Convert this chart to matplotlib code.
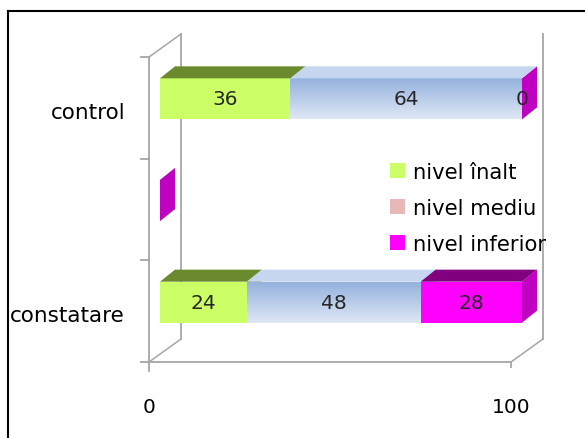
import numpy as np
import matplotlib.pyplot as plt
from matplotlib.patches import Rectangle, Polygon, Patch
from matplotlib.lines import Line2D
from matplotlib.colors import LinearSegmentedColormap

# categories bottom -> top (middle slot is empty in the original)
categories = ["constatare", "", "control"]
nivel_inalt = [24, 0, 36]
nivel_mediu = [48, 0, 64]
nivel_inferior = [28, 0, 0]
series_names = ["nivel înalt", "nivel mediu", "nivel inferior"]
x_ticks = [0, 100]

W, H = 585, 439
fig = plt.figure(figsize=(W / 100, H / 100), dpi=100)
plt.rcParams['font.family'] = ['DejaVu Sans']

# front plane of the 3d box, in pixels
L, R, T, B = 149, 511, 58, 363
ax = fig.add_axes([L / W, 1 - B / H, (R - L) / W, (B - T) / H])
ax.axis("off")

kx = (R - L) / 100.0
ky = (B - T) / 3.0

def dx(p):
    return p / kx

def dy(p):
    return p / ky

gray = "#a6a6a6"
# walls
depth = (32, 23)
ax.plot([0, 0], [-0.5 - dy(9), 2.5], color=gray, lw=1.3, clip_on=False)
ax.plot([dx(depth[0])] * 2, [-0.5 + dy(depth[1]), 2.5 + dy(depth[1])], color=gray, lw=1.3, clip_on=False)
ax.plot([100 + dx(depth[0])] * 2, [-0.5 + dy(depth[1]), 2.5 + dy(depth[1])], color=gray, lw=1.3, clip_on=False)
ax.plot([0, 100], [-0.5, -0.5], color=gray, lw=1.3, clip_on=False)
ax.plot([100, 100], [-0.5, -0.5 - dy(5)], color=gray, lw=1.3, clip_on=False)
for x0 in [0, 100]:
    ax.plot([x0, x0 + dx(depth[0])], [-0.5, -0.5 + dy(depth[1])], color=gray, lw=1.1, clip_on=False)
ax.plot([0, dx(depth[0])], [2.5, 2.5 + dy(depth[1])], color=gray, lw=1.1, clip_on=False)
for yb in np.arange(-0.5, 3.0, 1.0):
    ax.plot([0, -dx(8)], [yb, yb], color=gray, lw=1.3, clip_on=False)

# bars
off_x, off_y = dx(11), dy(9)
bar_h = dy(41)
ddx, ddy = dx(15), dy(12)
front = ["#ccff66", None, "#ff00ff"]
tops = ["#6b8a2e", "#c6d6ee", "#800080"]
sides = ["#7fa03a", "#b8cbe9", "#c000c0"]
legend_cols = ["#ccff66", "#e6b9b8", "#ff00ff"]

blue_grad = np.linspace(0, 1, 64).reshape(-1, 1)
blue_cmap = LinearSegmentedColormap.from_list("b", ["#dfe7f5", "#94b2de"])

for i, cat in enumerate(categories):
    vals = [nivel_inalt[i], nivel_mediu[i], nivel_inferior[i]]
    left = 0
    y0 = i - bar_h / 2 + off_y
    for s, v in enumerate(vals):
        x0 = left + off_x
        x1 = x0 + v
        if v > 0:
            if front[s] is None:
                ax.imshow(blue_grad, cmap=blue_cmap, extent=(x0, x1, y0, y0 + bar_h),
                          aspect="auto", origin="lower", zorder=2, clip_on=False)
            else:
                ax.add_patch(Rectangle((x0, y0), v, bar_h, color=front[s], lw=0,
                                       zorder=2, clip_on=False))
            ax.add_patch(Polygon([(x0, y0 + bar_h), (x1, y0 + bar_h),
                                  (x1 + ddx, y0 + bar_h + ddy), (x0 + ddx, y0 + bar_h + ddy)],
                                 color=tops[s], lw=0, zorder=2 + s * 0.1, clip_on=False))
            ax.text((x0 + x1) / 2, i + off_y, str(v), ha="center", va="center",
                    fontsize=14.5, color="#262626", zorder=5)
        elif i == 2:
            ax.text(x0, i + off_y, str(v), ha="center", va="center",
                    fontsize=14.5, color="#262626", zorder=5)
        ax.add_patch(Polygon([(x1, y0), (x1, y0 + bar_h),
                              (x1 + ddx, y0 + bar_h + ddy), (x1 + ddx, y0 + ddy)],
                             color=sides[s], lw=0, zorder=1.5 + s * 0.1, clip_on=False))
        left += v

ax.set_xlim(0, 100)
ax.set_ylim(-0.5, 2.5)

# category labels
for i, cat in enumerate(categories):
    ax.text(-dx(24), i - dy(4), cat, ha="right", va="center", fontsize=15.5, color="#000000")
for xv in x_ticks:
    ax.text(xv, -0.5 - dy(45), str(xv), ha="center", va="center", fontsize=14.5, color="#000000")

handles = [Patch(facecolor=c, edgecolor="none") for c in legend_cols]
fig.legend(handles, series_names, loc="upper left", bbox_to_anchor=(390 / W, 1 - 163 / H),
           frameon=False, fontsize=15.2, handlelength=0.72, handleheight=0.72,
           handletextpad=0.35, labelspacing=0.75, borderpad=0, borderaxespad=0)

# outer frame
fig.add_artist(Line2D([8 / W, 8 / W], [0, 1 - 12 / H], color="black", lw=1.5))
fig.add_artist(Line2D([8 / W, 1], [1 - 12 / H, 1 - 12 / H], color="black", lw=1.5))

fig.savefig("out.png", dpi=100)
